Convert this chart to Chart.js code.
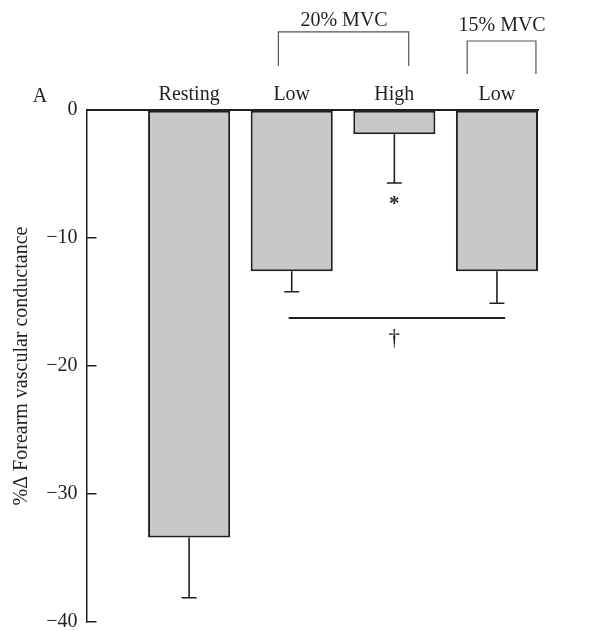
<!DOCTYPE html>
<html>
<head>
<meta charset="utf-8">
<script src="https://cdn.jsdelivr.net/npm/chart.js@4/dist/chart.umd.min.js"></script>
<style>
  html, body { margin: 0; padding: 0; background: #fff; }
  #wrap { width: 595px; height: 631px; }
</style>
</head>
<body>
<div id="wrap"><canvas id="c" width="595" height="631"></canvas></div>
<script>
// ---- data ----
const categories = ['Resting', 'Low', 'High', 'Low'];
const categoryPositions = [1, 2, 3, 4];
const meanChange = [-33.4, -12.6, -1.9, -12.6];
const errorLength = [4.7, 1.6, 3.8, 2.5];
const yTicks = [0, -10, -20, -30, -40];
const groupLabels = ['20% MVC', '15% MVC'];
const yTitle = '%\u0394 Forearm vascular conductance';
const panelLabel = 'A';
const sigStar = '*';
const sigDagger = '\u2020';

const INK = '#231f20';
const FONT = '"Liberation Serif", "Times New Roman", serif';

const extras = {
  id: 'extras',
  afterDatasetsDraw(chart) {
    const {ctx, scales: {x, y}} = chart;
    ctx.save();
    // error bars (downward only)
    ctx.strokeStyle = INK;
    ctx.lineWidth = 1.6;
    categoryPositions.forEach((p, i) => {
      const px = x.getPixelForValue(p);
      const y0 = y.getPixelForValue(meanChange[i]);
      const y1 = y.getPixelForValue(meanChange[i] - errorLength[i]);
      ctx.beginPath();
      ctx.moveTo(px, y0);
      ctx.lineTo(px, y1);
      ctx.moveTo(px - 7.5, y1);
      ctx.lineTo(px + 7.5, y1);
      ctx.stroke();
    });
    // significance line
    ctx.lineWidth = 2;
    ctx.beginPath();
    ctx.moveTo(x.getPixelForValue(1.97), y.getPixelForValue(-16.25));
    ctx.lineTo(x.getPixelForValue(4.08), y.getPixelForValue(-16.25));
    ctx.stroke();

    // brackets
    ctx.strokeStyle = '#555';
    ctx.lineWidth = 1.2;
    const bracket = (x0, x1, yTop, yBot) => {
      ctx.beginPath();
      ctx.moveTo(x.getPixelForValue(x0), y.getPixelForValue(yBot));
      ctx.lineTo(x.getPixelForValue(x0), y.getPixelForValue(yTop));
      ctx.lineTo(x.getPixelForValue(x1), y.getPixelForValue(yTop));
      ctx.lineTo(x.getPixelForValue(x1), y.getPixelForValue(yBot));
      ctx.stroke();
    };
    bracket(1.87, 3.14, 6.1, 3.44);
    bracket(3.71, 4.38, 5.39, 2.81);

    // texts
    ctx.fillStyle = INK;
    ctx.font = '20px ' + FONT;
    ctx.textAlign = 'center';
    ctx.textBaseline = 'middle';
    ctx.fillText(groupLabels[0], x.getPixelForValue(2.51), y.getPixelForValue(6.95));
    ctx.fillText(groupLabels[1], x.getPixelForValue(4.05), y.getPixelForValue(6.55));
    ctx.fillText(panelLabel, x.getPixelForValue(-0.453), y.getPixelForValue(1.05));
    ctx.font = 'bold 21px ' + FONT;
    ctx.fillText(sigStar, x.getPixelForValue(3.0), y.getPixelForValue(-7.4));
    ctx.font = '23px ' + FONT;
    ctx.fillText(sigDagger, x.getPixelForValue(3.0), y.getPixelForValue(-17.9));
    ctx.restore();
  }
};

new Chart(document.getElementById('c'), {
  type: 'bar',
  data: {
    datasets: [{
      data: categoryPositions.map((p, i) => ({x: p, y: meanChange[i]})),
      backgroundColor: '#c7c8ca',
      borderColor: INK,
      borderWidth: 2,
      borderSkipped: false,
      barPercentage: 0.8,
      categoryPercentage: 1.0
    }]
  },
  options: {
    responsive: false,
    animation: false,
    devicePixelRatio: 1,
    layout: { padding: { top: 70, right: 57, bottom: 9, left: 0 } },
    plugins: { legend: { display: false }, tooltip: { enabled: false } },
    scales: {
      x: {
        type: 'linear',
        position: 'top',
        offset: false,
        min: 0, max: 4.4,
        afterBuildTicks: axis => { axis.ticks = categoryPositions.map(v => ({value: v})); },
        afterFit: s => { s.height = 40; s.paddingLeft = 0; s.paddingRight = 0; },
        ticks: {
          autoSkip: false, maxRotation: 0, padding: 3,
          callback: (v, i) => categories[i],
          font: { family: FONT, size: 20 }, color: INK
        },
        grid: { display: false, drawTicks: false },
        border: { display: true, color: INK, width: 2 }
      },
      y: {
        min: -40, max: 0,
        afterBuildTicks: axis => { axis.ticks = yTicks.map(v => ({value: v})); },
        afterFit: s => { s.width = 86.5; s.paddingTop = 0; s.paddingBottom = 0; },
        ticks: {
          padding: 19,
          callback: v => v === 0 ? '0' : '\u2212' + Math.abs(v),
          font: { family: FONT, size: 20 }, color: INK
        },
        grid: { drawOnChartArea: false, tickLength: -10, color: INK, lineWidth: 1.5 },
        border: { display: true, color: INK, width: 1.5 },
        title: {
          display: true, text: yTitle,
          font: { family: FONT, size: 20 }, color: INK,
          padding: { top: 10, bottom: 0 }
        }
      }
    }
  },
  plugins: [extras]
});
</script>
</body>
</html>
